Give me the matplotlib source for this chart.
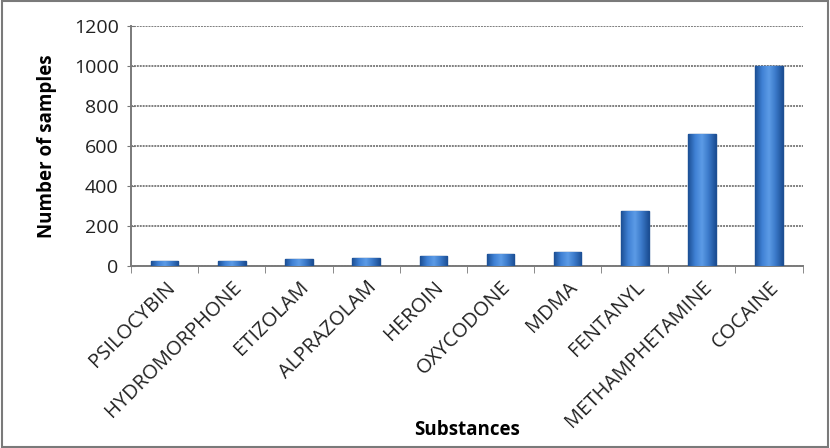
import matplotlib.pyplot as plt
import matplotlib
import numpy as np
from matplotlib.patches import Rectangle

plt.rcParams["font.family"] = ["Open Sans", "DejaVu Sans"]

substances = ["PSILOCYBIN", "HYDROMORPHONE", "ETIZOLAM", "ALPRAZOLAM", "HEROIN",
              "OXYCODONE", "MDMA", "FENTANYL", "METHAMPHETAMINE", "COCAINE"]
samples = [25, 25, 35, 40, 53, 60, 70, 276, 660, 1000]
yticks = [0, 200, 400, 600, 800, 1000, 1200]

fig = plt.figure(figsize=(8.3, 4.48), dpi=100)
ax = fig.add_axes([0.158, 0.406, 0.809, 0.536])

x = np.arange(len(substances))
bars = ax.bar(x, samples, width=0.41, color="#3f7fcf", edgecolor="#1d4f92",
              linewidth=1.0, zorder=3)

# horizontal shading on each bar (dark edges, light middle)
cmap = matplotlib.colors.LinearSegmentedColormap.from_list(
    "barshade", ["#1c4f95", "#3f80d4", "#5c9be6", "#3a78c8", "#1c4f95"])
grad = np.linspace(0, 1, 64).reshape(1, -1)
for b in bars:
    x0, w, h = b.get_x(), b.get_width(), b.get_height()
    im = ax.imshow(grad, extent=[x0, x0 + w, 0, h], cmap=cmap, aspect="auto", zorder=3.5)
    im.set_clip_path(b)

ax.set_xlim(-0.5, len(substances) - 0.5)
ax.set_ylim(0, 1200)
ax.set_yticks(yticks)
ax.set_yticklabels([str(t) for t in yticks], fontsize=14, color="#222222")
ax.yaxis.grid(True, color="#7f7f7f", linewidth=1.4, linestyle=(0, (1, 0.5)), zorder=0)

ax.set_xticks(x)
ax.set_xticklabels(substances, rotation=45, ha="right", rotation_mode="anchor",
                   fontsize=14.5, color="#222222")
ax.tick_params(axis="x", length=0, pad=8)
ax.set_xticks(np.arange(-0.5, len(substances)), minor=True)
ax.tick_params(axis="x", which="minor", length=5, direction="out", color="#777777")
ax.tick_params(axis="y", length=6, direction="inout", color="#777777", pad=6)

for s in ["top", "right"]:
    ax.spines[s].set_visible(False)
for s in ["left", "bottom"]:
    ax.spines[s].set_color("#7a7a7a")
    ax.spines[s].set_linewidth(1.4)

ax.set_ylabel("Number of samples", fontsize=13.5, fontweight="bold", labelpad=12)
fig.text(0.563, 0.028, "Substances", ha="center", fontsize=13.5, fontweight="bold")

fig.patches.append(Rectangle((0.002, 0.003), 0.996, 0.994, transform=fig.transFigure,
                             fill=False, edgecolor="#7a7a7a", linewidth=1.5))

fig.savefig("out.png", dpi=100)
